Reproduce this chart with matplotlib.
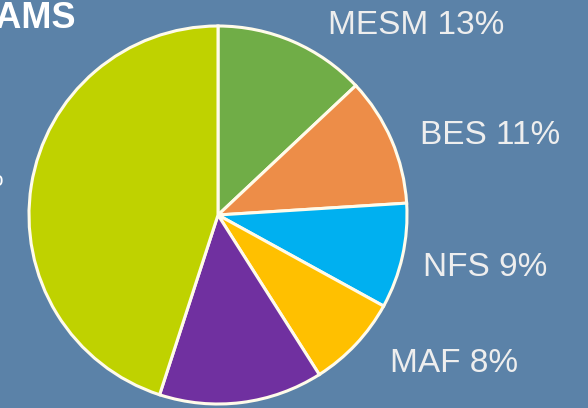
import matplotlib.pyplot as plt

# slice data, clockwise from 12 o'clock
programs = ["MESM", "BES", "NFS", "MAF", "Other A", "Other B"]
shares = [13, 11, 9, 8, 14, 45]
colors = ["#70AD47", "#ED8D48", "#00B0F0", "#FFC000", "#7030A0", "#BFD200"]
labelled = ["MESM", "BES", "NFS", "MAF"]
label_xy = [(328, 34), (420, 144), (423, 276), (390, 372)]  # pixel, baseline (from top)

W, H = 588, 408
bg = "#5B82A8"

fig = plt.figure(figsize=(W / 100, H / 100), dpi=100, facecolor=bg)
cx, cy, r = 218, 215, 189
ax = fig.add_axes([(cx - r) / W, (H - cy - r) / H, 2 * r / W, 2 * r / H])
ax.pie(shares, colors=colors, startangle=90, counterclock=False, radius=1,
       wedgeprops=dict(edgecolor="#FFFBEA", linewidth=2.2))
ax.set_xlim(-1, 1)
ax.set_ylim(-1, 1)
ax.set_aspect("equal")
ax.axis("off")

for name, (px, py) in zip(labelled, label_xy):
    pct = shares[programs.index(name)]
    fig.text(px / W, 1 - py / H, f"{name} {pct}%", color="#EEEEEE",
             fontsize=24, family="Liberation Sans", ha="left", va="baseline")

# cut-off title and side text
fig.text(76 / W, 1 - 28 / H, "PROGRAMS", color="white", fontsize=26,
         fontweight="bold", family="Liberation Sans", ha="right", va="baseline")
fig.text(4 / W, 1 - 186 / H, "to", color="white", fontsize=15,
         family="Liberation Sans", ha="right", va="baseline")

fig.savefig("out.png", dpi=100, facecolor=bg)
